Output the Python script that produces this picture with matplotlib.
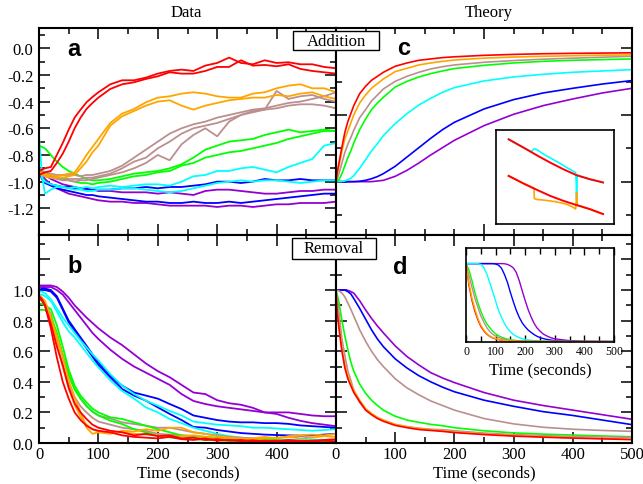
import matplotlib
matplotlib.use('Agg')
import matplotlib.pyplot as plt
from matplotlib.ticker import MultipleLocator, FixedLocator, FixedFormatter, NullFormatter
from matplotlib.patches import Rectangle

plt.rcParams['font.family'] = 'Liberation Serif'
plt.rcParams['axes.unicode_minus'] = False

# ---------------- colours ----------------
RED = '#ff0000'
ORANGE = '#ffa500'
BROWN = '#bc8f8f'
GREEN = '#00ff00'
CYAN = '#00ffff'
BLUE = '#0000ff'
PURPLE = '#9400d3'

# ---------------- data: measured traces ----------------
T_DATA = [0, 5, 10, 20, 30, 40, 50, 60, 70, 80, 90, 100, 120, 140, 160, 180, 200, 220, 240,
          260, 280, 300, 320, 340, 360, 380, 400, 420, 440, 460, 480, 500]

# Panel a (addition, data)
a_red1 = [-0.92, -0.91, -0.9, -0.89, -0.8, -0.71, -0.61, -0.52, -0.46, -0.405, -0.365, -0.33,
          -0.27, -0.24, -0.24, -0.22, -0.19, -0.17, -0.16, -0.17, -0.13, -0.11, -0.07, -0.11,
          -0.12, -0.09, -0.11, -0.105, -0.12, -0.12, -0.14, -0.15]
a_red2 = [-0.95, -0.94, -0.93, -0.92, -0.86, -0.79, -0.7, -0.6, -0.52, -0.455, -0.41, -0.37,
          -0.305, -0.27, -0.255, -0.23, -0.21, -0.18, -0.19, -0.19, -0.17, -0.14, -0.14, -0.09,
          -0.13, -0.125, -0.135, -0.12, -0.155, -0.17, -0.18, -0.19]
a_orange1 = [-0.92, -0.94, -0.95, -0.95, -0.96, -0.95, -0.94, -0.93, -0.87, -0.8, -0.74, -0.68,
             -0.56, -0.49, -0.455, -0.405, -0.37, -0.36, -0.34, -0.33, -0.34, -0.36, -0.37, -0.37,
             -0.34, -0.33, -0.3, -0.28, -0.27, -0.3, -0.3, -0.33]
a_orange2 = [-0.93, -0.95, -0.96, -0.97, -0.97, -0.97, -0.96, -0.95, -0.9, -0.85, -0.78, -0.73,
             -0.58, -0.51, -0.47, -0.43, -0.4, -0.39, -0.43, -0.46, -0.43, -0.41, -0.39, -0.38,
             -0.37, -0.37, -0.35, -0.36, -0.34, -0.33, -0.36, -0.38]
a_brown1 = [-0.9, -0.92, -0.93, -0.94, -0.95, -0.95, -0.95, -0.95, -0.96, -0.95, -0.95, -0.94,
            -0.92, -0.88, -0.82, -0.76, -0.7, -0.64, -0.6, -0.57, -0.55, -0.52, -0.5, -0.48,
            -0.46, -0.45, -0.43, -0.41, -0.4, -0.38, -0.36, -0.33]
a_brown2 = [-0.92, -0.94, -0.95, -0.96, -0.97, -0.97, -0.98, -0.98, -0.98, -0.97, -0.97, -0.96,
            -0.94, -0.9, -0.85, -0.82, -0.75, -0.7, -0.64, -0.6, -0.58, -0.56, -0.53, -0.5,
            -0.48, -0.46, -0.45, -0.43, -0.42, -0.42, -0.43, -0.45]
a_brown3 = [-0.93, -0.95, -0.96, -0.97, -0.98, -0.99, -0.99, -1.0, -0.99, -0.99, -0.98, -0.97,
            -0.95, -0.93, -0.9, -0.86, -0.8, -0.84, -0.72, -0.65, -0.6, -0.66, -0.55, -0.5,
            -0.47, -0.46, -0.32, -0.38, -0.36, -0.35, -0.38, -0.4]
a_green1 = [-0.73, -0.74, -0.75, -0.8, -0.85, -0.89, -0.92, -0.94, -0.96, -0.98, -0.99, -0.99,
            -0.98, -0.96, -0.94, -0.93, -0.92, -0.9, -0.87, -0.82, -0.76, -0.73, -0.7, -0.69,
            -0.68, -0.65, -0.63, -0.61, -0.63, -0.62, -0.61, -0.62]
a_green2 = [-0.9, -0.92, -0.93, -0.95, -0.97, -0.98, -0.99, -1.0, -1.01, -1.01, -1.02, -1.01,
            -1.0, -0.98, -0.96, -0.95, -0.93, -0.92, -0.88, -0.86, -0.82, -0.8, -0.78, -0.77,
            -0.75, -0.73, -0.71, -0.68, -0.66, -0.64, -0.62, -0.62]
a_cyan1 = [-0.65, -0.95, -1.09, -1.06, -1.04, -1.04, -1.05, -1.04, -1.05, -1.04, -1.05, -1.04,
           -1.03, -1.04, -1.03, -1.02, -1.02, -1.03, -1.0, -0.96, -0.95, -0.92, -0.92, -0.9,
           -0.89, -0.91, -0.93, -0.89, -0.86, -0.83, -0.73, -0.71]
a_cyan2 = [-0.9, -0.97, -1.0, -1.02, -1.03, -1.04, -1.05, -1.06, -1.06, -1.07, -1.07, -1.06,
           -1.06, -1.05, -1.05, -1.06, -1.07, -1.08, -1.07, -1.05, -1.03, -1.01, -1.0, -0.99,
           -1.0, -0.99, -0.99, -1.0, -1.01, -1.0, -0.99, -0.99]
a_blue1 = [-0.9, -0.97, -1.0, -1.02, -1.03, -1.04, -1.04, -1.05, -1.05, -1.05, -1.06, -1.06,
           -1.06, -1.05, -1.05, -1.04, -1.05, -1.04, -1.04, -1.03, -1.02, -1.0, -1.0, -1.01,
           -1.0, -0.98, -0.99, -0.99, -0.98, -0.99, -0.99, -0.99]
a_blue2 = [-0.92, -0.98, -1.01, -1.03, -1.05, -1.06, -1.07, -1.08, -1.09, -1.1, -1.1, -1.11,
           -1.12, -1.13, -1.14, -1.15, -1.15, -1.16, -1.16, -1.15, -1.16, -1.16, -1.15, -1.16,
           -1.15, -1.14, -1.13, -1.12, -1.11, -1.1, -1.09, -1.09]
a_purple1 = [-0.9, -0.92, -0.95, -0.98, -1.0, -1.02, -1.03, -1.04, -1.05, -1.06, -1.06, -1.07,
             -1.07, -1.08, -1.08, -1.08, -1.09, -1.08, -1.09, -1.1, -1.07, -1.06, -1.06, -1.07,
             -1.08, -1.09, -1.09, -1.08, -1.07, -1.07, -1.06, -1.06]
a_purple2 = [-0.92, -0.95, -0.98, -1.02, -1.05, -1.07, -1.09, -1.1, -1.11, -1.12, -1.13, -1.14,
             -1.15, -1.15, -1.16, -1.16, -1.17, -1.18, -1.18, -1.18, -1.18, -1.19, -1.18, -1.18,
             -1.19, -1.18, -1.17, -1.17, -1.16, -1.16, -1.16, -1.15]

# Panel b (removal, data)
b_red1 = [0.95, 0.93, 0.9, 0.75, 0.56, 0.4, 0.29, 0.2, 0.15, 0.113, 0.09, 0.08,
          0.07, 0.05, 0.04, 0.035, 0.03, 0.04, 0.025, 0.02, 0.03, 0.015, 0.02, 0.012,
          0.018, 0.01, 0.015, 0.008, 0.012, 0.01, 0.015, 0.01]
b_red2 = [0.96, 0.94, 0.9, 0.78, 0.63, 0.51, 0.36, 0.26, 0.2, 0.157, 0.12, 0.1,
          0.08, 0.07, 0.05, 0.06, 0.045, 0.05, 0.03, 0.035, 0.02, 0.025, 0.015, 0.02,
          0.01, 0.015, 0.01, 0.02, 0.012, 0.015, 0.02, 0.025]
b_orange1 = [0.97, 0.95, 0.93, 0.82, 0.7, 0.57, 0.41, 0.3, 0.2, 0.1, 0.06, 0.07,
             0.06, 0.08, 0.075, 0.09, 0.08, 0.1, 0.1, 0.07, 0.06, 0.045, 0.035, 0.03,
             0.025, 0.03, 0.035, 0.04, 0.03, 0.035, 0.045, 0.04]
b_orange2 = [0.95, 0.93, 0.9, 0.8, 0.66, 0.5, 0.36, 0.25, 0.17, 0.12, 0.09, 0.075,
             0.065, 0.07, 0.06, 0.055, 0.05, 0.04, 0.045, 0.05, 0.04, 0.03, 0.035, 0.025,
             0.03, 0.04, 0.03, 0.045, 0.05, 0.055, 0.05, 0.06]
b_brown1 = [0.97, 0.95, 0.92, 0.84, 0.7, 0.56, 0.44, 0.353, 0.29, 0.24, 0.205, 0.18,
            0.16, 0.135, 0.124, 0.113, 0.1, 0.1, 0.085, 0.07, 0.06, 0.05, 0.04, 0.035,
            0.03, 0.025, 0.02, 0.018, 0.015, 0.012, 0.012, 0.01]
b_brown2 = [0.95, 0.93, 0.9, 0.8, 0.66, 0.5, 0.38, 0.3, 0.24, 0.2, 0.165, 0.14,
            0.12, 0.1, 0.09, 0.08, 0.06, 0.055, 0.05, 0.045, 0.035, 0.03, 0.025, 0.02,
            0.02, 0.015, 0.012, 0.015, 0.01, 0.01, 0.008, 0.01]
b_green1 = [0.87, 0.87, 0.87, 0.83, 0.72, 0.58, 0.45, 0.35, 0.29, 0.244, 0.205, 0.18,
            0.146, 0.124, 0.09, 0.07, 0.048, 0.037, 0.03, 0.025, 0.02, 0.018, 0.015, 0.012,
            0.012, 0.01, 0.008, 0.01, 0.008, 0.006, 0.008, 0.006]
b_green2 = [0.91, 0.91, 0.9, 0.875, 0.77, 0.63, 0.48, 0.375, 0.31, 0.266, 0.225, 0.2,
            0.168, 0.157, 0.135, 0.113, 0.09, 0.07, 0.05, 0.045, 0.04, 0.035, 0.03, 0.025,
            0.02, 0.02, 0.018, 0.015, 0.012, 0.015, 0.012, 0.01]
b_cyan1 = [0.99, 0.99, 0.98, 0.94, 0.88, 0.82, 0.77, 0.72, 0.67, 0.625, 0.58, 0.54,
           0.45, 0.375, 0.32, 0.277, 0.244, 0.21, 0.18, 0.14, 0.13, 0.12, 0.115, 0.11,
           0.1, 0.1, 0.095, 0.09, 0.085, 0.08, 0.085, 0.09]
b_cyan2 = [0.97, 0.97, 0.96, 0.93, 0.86, 0.79, 0.73, 0.69, 0.64, 0.59, 0.54, 0.495,
           0.41, 0.34, 0.29, 0.233, 0.2, 0.157, 0.13, 0.1, 0.08, 0.06, 0.045, 0.035,
           0.03, 0.028, 0.025, 0.022, 0.02, 0.022, 0.02, 0.02]
b_blue1 = [1.0, 1.01, 1.01, 1.0, 0.96, 0.88, 0.8, 0.745, 0.69, 0.636, 0.58, 0.527,
           0.44, 0.375, 0.33, 0.31, 0.29, 0.255, 0.222, 0.18, 0.165, 0.15, 0.14, 0.135,
           0.135, 0.13, 0.13, 0.125, 0.115, 0.11, 0.105, 0.1]
b_blue2 = [1.0, 1.0, 1.0, 0.99, 0.95, 0.87, 0.79, 0.73, 0.675, 0.62, 0.565, 0.51,
           0.43, 0.353, 0.31, 0.277, 0.233, 0.19, 0.15, 0.105, 0.1, 0.085, 0.075, 0.065,
           0.06, 0.055, 0.052, 0.05, 0.048, 0.05, 0.055, 0.06]
b_purple1 = [1.03, 1.03, 1.03, 1.03, 1.02, 0.99, 0.95, 0.9, 0.86, 0.82, 0.785, 0.75,
             0.69, 0.64, 0.58, 0.52, 0.47, 0.43, 0.38, 0.33, 0.32, 0.28, 0.26, 0.25,
             0.23, 0.2, 0.2, 0.2, 0.19, 0.18, 0.175, 0.175]
b_purple2 = [1.02, 1.02, 1.02, 1.02, 1.0, 0.97, 0.92, 0.87, 0.82, 0.77, 0.72, 0.68,
             0.61, 0.55, 0.5, 0.46, 0.42, 0.38, 0.32, 0.275, 0.255, 0.24, 0.23, 0.22,
             0.21, 0.2, 0.19, 0.165, 0.145, 0.13, 0.12, 0.11]

# ---------------- data: theory curves ----------------
T_THEORY = [0, 2, 5, 10, 15, 20, 25, 30, 40, 50, 60, 70, 80, 100, 120, 140, 160, 180, 200,
            250, 300, 350, 400, 450, 500]

c_red = [-1.0, -0.93, -0.86, -0.74, -0.63, -0.55, -0.49, -0.43, -0.34, -0.285, -0.24, -0.21,
         -0.18, -0.135, -0.11, -0.09, -0.08, -0.07, -0.064, -0.053, -0.046, -0.041, -0.038,
         -0.036, -0.034]
c_orange = [-1.0, -0.95, -0.88, -0.77, -0.68, -0.62, -0.56, -0.5, -0.41, -0.35, -0.3, -0.265,
            -0.23, -0.175, -0.15, -0.125, -0.11, -0.098, -0.088, -0.074, -0.066, -0.06, -0.056,
            -0.052, -0.05]
c_brown = [-1.0, -0.98, -0.94, -0.86, -0.78, -0.72, -0.67, -0.615, -0.52, -0.46, -0.395, -0.35,
           -0.305, -0.248, -0.21, -0.18, -0.155, -0.138, -0.125, -0.105, -0.092, -0.082, -0.074,
           -0.067, -0.06]
c_green = [-1.0, -0.998, -0.985, -0.94, -0.88, -0.82, -0.77, -0.71, -0.61, -0.53, -0.46, -0.41,
           -0.368, -0.29, -0.248, -0.215, -0.19, -0.17, -0.152, -0.128, -0.11, -0.098, -0.09,
           -0.085, -0.08]
c_cyan = [-1.0, -1.0, -1.0, -0.998, -0.995, -0.985, -0.975, -0.955, -0.9, -0.835, -0.77, -0.715,
          -0.655, -0.565, -0.49, -0.425, -0.375, -0.33, -0.295, -0.245, -0.215, -0.195, -0.18,
          -0.17, -0.16]
c_blue = [-1.0, -1.0, -1.0, -1.0, -1.0, -1.0, -1.0, -1.0, -0.997, -0.99, -0.978, -0.962,
          -0.94, -0.885, -0.815, -0.745, -0.675, -0.61, -0.555, -0.455, -0.385, -0.335, -0.3,
          -0.268, -0.242]
c_purple = [-1.0, -1.0, -1.0, -1.0, -1.0, -1.0, -1.0, -1.0, -1.0, -1.0, -1.0, -0.995,
            -0.99, -0.96, -0.915, -0.86, -0.8, -0.745, -0.69, -0.58, -0.495, -0.43, -0.38,
            -0.335, -0.3]

d_purple = [1.0, 1.0, 1.0, 1.0, 1.0, 0.998, 0.99, 0.98, 0.93, 0.87, 0.815, 0.765, 0.72,
            0.635, 0.565, 0.51, 0.46, 0.425, 0.395, 0.33, 0.28, 0.245, 0.215, 0.185, 0.155]
d_blue = [1.0, 1.0, 1.0, 1.0, 1.0, 0.99, 0.975, 0.945, 0.88, 0.81, 0.74, 0.68, 0.63,
          0.55, 0.49, 0.44, 0.4, 0.365, 0.335, 0.28, 0.24, 0.205, 0.18, 0.15, 0.12]
d_brown1 = [1.0, 0.998, 0.995, 0.98, 0.955, 0.915, 0.875, 0.83, 0.74, 0.665, 0.6, 0.545, 0.5,
            0.42, 0.36, 0.315, 0.275, 0.245, 0.215, 0.16, 0.125, 0.103, 0.09, 0.082, 0.076]
d_green = [1.0, 0.97, 0.92, 0.8, 0.7, 0.61, 0.53, 0.47, 0.385, 0.325, 0.28, 0.245, 0.215,
           0.175, 0.15, 0.135, 0.122, 0.113, 0.1, 0.08, 0.066, 0.058, 0.052, 0.046, 0.041]
d_brown2 = [1.0, 0.94, 0.85, 0.68, 0.57, 0.47, 0.41, 0.345, 0.265, 0.22, 0.19, 0.165, 0.148,
            0.12, 0.106, 0.097, 0.09, 0.087, 0.08, 0.065, 0.055, 0.048, 0.043, 0.04, 0.037]
d_orange = [1.0, 0.88, 0.77, 0.62, 0.51, 0.44, 0.39, 0.345, 0.28, 0.225, 0.193, 0.168, 0.15,
            0.122, 0.106, 0.094, 0.087, 0.08, 0.072, 0.059, 0.049, 0.041, 0.035, 0.03, 0.025]
d_red = [1.0, 0.86, 0.75, 0.6, 0.49, 0.42, 0.375, 0.33, 0.27, 0.215, 0.185, 0.16, 0.142,
         0.115, 0.1, 0.088, 0.082, 0.076, 0.068, 0.055, 0.045, 0.038, 0.032, 0.027, 0.022]

# Inset of panel d
T_INSET = [0, 10, 20, 30, 40, 50, 60, 70, 80, 90, 100, 110, 120, 130, 140, 150, 160, 170, 180,
           190, 200, 210, 220, 230, 240, 250, 260, 270, 280, 290, 300, 350, 400, 450, 500]
i_purple = [1.0, 1.0, 1.0, 1.0, 1.0, 1.0, 1.0, 1.0, 1.0, 1.0, 1.0, 1.0, 1.0, 0.998, 0.99,
            0.972, 0.945, 0.885, 0.78, 0.65, 0.525, 0.41, 0.315, 0.235, 0.175, 0.135, 0.1,
            0.078, 0.06, 0.046, 0.036, 0.012, 0.004, 0.002, 0.001]
i_blue = [1.0, 1.0, 1.0, 1.0, 1.0, 1.0, 1.0, 1.0, 1.0, 1.0, 0.995, 0.98, 0.94, 0.86, 0.76,
          0.63, 0.51, 0.4, 0.31, 0.24, 0.19, 0.148, 0.118, 0.09, 0.068, 0.052, 0.04, 0.031,
          0.024, 0.018, 0.013, 0.004, 0.002, 0.001, 0.0]
i_cyan = [1.0, 1.0, 1.0, 1.0, 1.0, 0.99, 0.95, 0.87, 0.76, 0.64, 0.52, 0.4, 0.31, 0.23, 0.17,
          0.125, 0.093, 0.068, 0.05, 0.037, 0.028, 0.021, 0.016, 0.012, 0.009, 0.007, 0.005,
          0.004, 0.003, 0.002, 0.002, 0.001, 0.0, 0.0, 0.0]
i_green = [1.0, 0.92, 0.785, 0.63, 0.5, 0.39, 0.3, 0.23, 0.18, 0.135, 0.1, 0.075, 0.057,
           0.043, 0.032, 0.024, 0.018, 0.014, 0.011, 0.008, 0.006, 0.005, 0.004, 0.003, 0.003,
           0.002, 0.002, 0.001, 0.001, 0.001, 0.001, 0.0, 0.0, 0.0, 0.0]
i_brown = [1.0, 0.85, 0.7, 0.555, 0.44, 0.33, 0.25, 0.18, 0.13, 0.095, 0.07, 0.052, 0.04,
           0.03, 0.022, 0.016, 0.012, 0.009, 0.007, 0.005, 0.004, 0.003, 0.003, 0.002, 0.002,
           0.001, 0.001, 0.001, 0.001, 0.001, 0.001, 0.0, 0.0, 0.0, 0.0]
i_orange = [1.0, 0.75, 0.56, 0.42, 0.3, 0.21, 0.15, 0.105, 0.072, 0.052, 0.038, 0.028, 0.021,
            0.016, 0.012, 0.009, 0.007, 0.005, 0.004, 0.003, 0.002, 0.001, 0.001, 0.001, 0.001,
            0.001, 0.001, 0.001, 0.001, 0.001, 0.001, 0.0, 0.0, 0.0, 0.0]
i_red = [1.0, 0.72, 0.53, 0.39, 0.28, 0.195, 0.138, 0.097, 0.068, 0.048, 0.034, 0.025, 0.018,
         0.013, 0.01, 0.007, 0.005, 0.004, 0.003, 0.002, 0.002, 0.001, 0.001, 0.001, 0.001,
         0.001, 0.001, 0.001, 0.001, 0.001, 0.001, 0.0, 0.0, 0.0, 0.0]

# Inset of panel c (fit vs. trace, arbitrary units)
ic_fit_x = [0.107, 0.233, 0.346, 0.458, 0.57, 0.683, 0.795, 0.907]
ic_fit_hi = [0.901, 0.813, 0.731, 0.654, 0.583, 0.519, 0.477, 0.442]
ic_fit_lo = [0.512, 0.431, 0.364, 0.3, 0.247, 0.201, 0.159, 0.106]
ic_cyan_x = [0.107, 0.15, 0.2, 0.25, 0.3, 0.317, 0.33, 0.36, 0.4, 0.45, 0.5, 0.55, 0.6, 0.65,
             0.675, 0.68, 0.683, 0.686, 0.69, 0.72, 0.76, 0.8, 0.85, 0.907]
ic_cyan_y = [0.901, 0.87, 0.835, 0.8, 0.77, 0.795, 0.8, 0.78, 0.745, 0.71, 0.675, 0.64, 0.6,
             0.565, 0.548, 0.45, 0.265, 0.45, 0.52, 0.505, 0.49, 0.47, 0.46, 0.44]
ic_orange_x = [0.107, 0.15, 0.2, 0.25, 0.3, 0.322, 0.325, 0.35, 0.4, 0.45, 0.5, 0.55, 0.6,
               0.65, 0.675, 0.68, 0.683, 0.686, 0.69, 0.72, 0.76, 0.8, 0.85, 0.907]
ic_orange_y = [0.512, 0.485, 0.452, 0.42, 0.39, 0.378, 0.27, 0.26, 0.255, 0.247, 0.238, 0.225,
               0.21, 0.18, 0.16, 0.25, 0.336, 0.25, 0.2, 0.19, 0.17, 0.155, 0.13, 0.106]

# ---------------- layout helpers ----------------
W, H = 643.0, 485.0
fig = plt.figure(figsize=(6.43, 4.85), dpi=100)


def rect(l, t, r, b):
    return [l / W, 1 - b / H, (r - l) / W, (b - t) / H]


def style(ax, lw=1.5):
    ax.tick_params(which='both', direction='in', top=True, right=True, width=1.1,
                   labelsize=12, colors='black')
    ax.tick_params(which='major', length=8)
    ax.tick_params(which='minor', length=4)
    ax.tick_params(axis='x', pad=2)
    ax.tick_params(axis='y', pad=4)
    for s in ax.spines.values():
        s.set_linewidth(lw)
    ax.set_xlim(0, 500)


ax_a = fig.add_axes(rect(39, 29, 336, 236))
ax_c = fig.add_axes(rect(336, 29, 632, 236))
ax_b = fig.add_axes(rect(39, 236, 336, 444))
ax_d = fig.add_axes(rect(336, 236, 632, 444))

LW_DATA = 1.3
LW_TH = 1.2

# ---- panel a ----
for ys, col in [(a_purple1, PURPLE), (a_purple2, PURPLE), (a_blue1, BLUE), (a_blue2, BLUE),
                (a_cyan1, CYAN), (a_cyan2, CYAN), (a_green1, GREEN), (a_green2, GREEN),
                (a_brown1, BROWN), (a_brown2, BROWN), (a_brown3, BROWN),
                (a_orange1, ORANGE), (a_orange2, ORANGE), (a_red1, RED), (a_red2, RED)]:
    ax_a.plot(T_DATA, ys, color=col, lw=LW_DATA)
style(ax_a)
ax_a.set_ylim(-1.4, 0.152)
a_ticks = [-1.2, -1.0, -0.8, -0.6, -0.4, -0.2, 0.0]
ax_a.yaxis.set_major_locator(FixedLocator(a_ticks))
ax_a.yaxis.set_major_formatter(FixedFormatter(['%.1f' % v for v in a_ticks]))
ax_a.yaxis.set_minor_locator(MultipleLocator(0.1))
ax_a.xaxis.set_major_locator(MultipleLocator(100))
ax_a.xaxis.set_minor_locator(MultipleLocator(50))
ax_a.tick_params(labelbottom=False)

# ---- panel c ----
for ys, col in [(c_purple, PURPLE), (c_blue, BLUE), (c_cyan, CYAN), (c_green, GREEN),
                (c_brown, BROWN), (c_orange, ORANGE), (c_red, RED)]:
    ax_c.plot(T_THEORY, ys, color=col, lw=LW_TH)
style(ax_c)
ax_c.set_ylim(-1.4, 0.152)
ax_c.yaxis.set_major_locator(FixedLocator([-1.0, -0.5, 0.0]))
ax_c.yaxis.set_minor_locator(FixedLocator([-1.25, -0.75, -0.25]))
ax_c.xaxis.set_major_locator(MultipleLocator(250))
ax_c.xaxis.set_minor_locator(MultipleLocator(50))
ax_c.tick_params(labelbottom=False, labelleft=False)

# ---- panel b ----
for ys, col in [(b_purple1, PURPLE), (b_purple2, PURPLE), (b_blue1, BLUE), (b_blue2, BLUE),
                (b_cyan1, CYAN), (b_cyan2, CYAN), (b_brown1, BROWN), (b_brown2, BROWN),
                (b_green1, GREEN), (b_green2, GREEN), (b_orange1, ORANGE), (b_orange2, ORANGE),
                (b_red1, RED), (b_red2, RED)]:
    ax_b.plot(T_DATA, ys, color=col, lw=LW_DATA)
style(ax_b)
ax_b.set_ylim(0, 1.36)
b_ticks = [0.0, 0.2, 0.4, 0.6, 0.8, 1.0, 1.2]
ax_b.yaxis.set_major_locator(FixedLocator(b_ticks))
ax_b.yaxis.set_major_formatter(FixedFormatter(['0.0', '0.2', '0.4', '0.6', '0.8', '1.0', '']))
ax_b.yaxis.set_minor_locator(MultipleLocator(0.1))
ax_b.xaxis.set_major_locator(FixedLocator([0, 100, 200, 300, 400, 500]))
ax_b.xaxis.set_major_formatter(FixedFormatter(['0', '100', '200', '300', '400', '']))
ax_b.xaxis.set_minor_locator(MultipleLocator(50))

# ---- panel d ----
for ys, col in [(d_purple, PURPLE), (d_blue, BLUE), (d_brown1, BROWN), (d_green, GREEN),
                (d_brown2, BROWN), (d_orange, ORANGE), (d_red, RED)]:
    ax_d.plot(T_THEORY, ys, color=col, lw=LW_TH)
style(ax_d)
ax_d.set_ylim(0, 1.36)
ax_d.yaxis.set_major_locator(FixedLocator(b_ticks))
ax_d.yaxis.set_minor_locator(MultipleLocator(0.1))
ax_d.xaxis.set_major_locator(FixedLocator([0, 100, 200, 300, 400, 500]))
ax_d.xaxis.set_major_formatter(FixedFormatter(['0', '100', '200', '300', '400', '500']))
ax_d.xaxis.set_minor_locator(MultipleLocator(50))
ax_d.tick_params(labelleft=False)

# ---- inset in c ----
ax_ic = fig.add_axes(rect(496, 131, 614, 225))
ax_ic.plot(ic_cyan_x, ic_cyan_y, color=CYAN, lw=1.2)
ax_ic.plot(ic_orange_x, ic_orange_y, color=ORANGE, lw=1.2)
ax_ic.plot(ic_fit_x, ic_fit_hi, color=RED, lw=1.4)
ax_ic.plot(ic_fit_x, ic_fit_lo, color=RED, lw=1.4)
ax_ic.set_xlim(0, 1)
ax_ic.set_ylim(0, 1)
ax_ic.set_xticks([])
ax_ic.set_yticks([])
for s in ax_ic.spines.values():
    s.set_linewidth(1.2)

# ---- inset in d ----
ax_id = fig.add_axes(rect(466, 249, 614, 343))
for ys, col in [(i_purple, PURPLE), (i_blue, BLUE), (i_cyan, CYAN), (i_green, GREEN),
                (i_brown, BROWN), (i_red, RED), (i_orange, ORANGE)]:
    ax_id.plot(T_INSET, ys, color=col, lw=1.0)
ax_id.set_xlim(0, 500)
ax_id.set_ylim(-0.005, 1.2)
ax_id.xaxis.set_major_locator(MultipleLocator(100))
ax_id.xaxis.set_minor_locator(MultipleLocator(50))
ax_id.set_yticks([])
ax_id.tick_params(which='both', direction='in', top=True, bottom=True, width=1.0,
                  labelsize=8.5, pad=2)
ax_id.tick_params(which='major', length=5)
ax_id.tick_params(which='minor', length=4)
for s in ax_id.spines.values():
    s.set_linewidth(1.2)

# ---------------- texts ----------------
fig.text(186 / W, 1 - 13 / H, 'Data', ha='center', va='center', fontsize=12)
fig.text(489 / W, 1 - 13 / H, 'Theory', ha='center', va='center', fontsize=12)
fig.text(188 / W, 1 - 473 / H, 'Time (seconds)', ha='center', va='center', fontsize=12)
fig.text(484 / W, 1 - 473 / H, 'Time (seconds)', ha='center', va='center', fontsize=12)
fig.text(540 / W, 1 - 370 / H, 'Time (seconds)', ha='center', va='center', fontsize=12)

letter_kw = dict(fontsize=17, fontweight='bold', family='Liberation Sans',
                 ha='center', va='baseline')
ax_a.text(0.118, 0.868, 'a', transform=ax_a.transAxes, **letter_kw)
ax_c.text(0.23, 0.874, 'c', transform=ax_c.transAxes, **letter_kw)
ax_b.text(0.12, 0.82, 'b', transform=ax_b.transAxes, **letter_kw)
ax_d.text(0.216, 0.815, 'd', transform=ax_d.transAxes, **letter_kw)

for (l, t, r, b, label) in [(293, 32, 379, 51, 'Addition'), (292, 239, 376, 260, 'Removal')]:
    fig.add_artist(Rectangle((l / W, 1 - b / H), (r - l) / W, (b - t) / H,
                             transform=fig.transFigure, facecolor='white',
                             edgecolor='black', lw=1.0, zorder=10))
    fig.text((l + r) / 2 / W, 1 - (t + b) / 2 / H, label, ha='center', va='center',
             fontsize=12, zorder=11)

fig.savefig('out.png', dpi=100)
